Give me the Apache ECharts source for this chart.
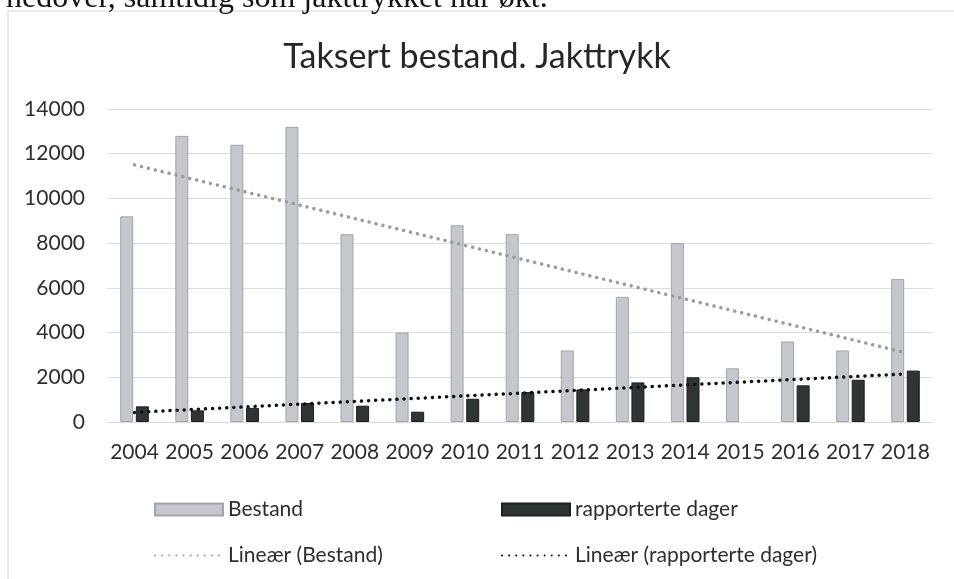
<!DOCTYPE html>
<html lang="no">
<head>
    <meta charset="UTF-8">
    <title>Taksert bestand. Jakttrykk</title>
    <style>
        html, body { margin: 0; padding: 0; background: #fff; }
    </style>
</head>
<body>
<div id="main" style="width: 954px;height: 579px;"></div>
<script src="https://cdn.jsdelivr.net/npm/echarts@6/dist/echarts.min.js"></script>
<script type="text/javascript">

    // years on the x axis
    var years = ['2004', '2005', '2006', '2007', '2008', '2009', '2010', '2011',
                 '2012', '2013', '2014', '2015', '2016', '2017', '2018'];

    // taksert bestand (light bars)
    var bestand = [9200, 12800, 12400, 13200, 8400, 4000, 8800, 8400,
                   3200, 5600, 8000, 2400, 3600, 3200, 6400];

    // rapporterte jaktdager (dark bars), 2015 has no value
    var dager = [700, 520, 630, 850, 730, 460, 1040, 1340,
                 1460, 1770, 2000, null, 1640, 1890, 2300];

    // trend lines, read at first and last year
    var trendBestand = [11500, null, null, null, null, null, null, null,
                        null, null, null, null, null, null, 3100];
    var trendDager = [430, null, null, null, null, null, null, null,
                      null, null, null, null, null, null, 2150];

    // y axis ticks
    var yMin = 0, yMax = 14000, yStep = 2000;

    var font = 'Lato';
    var textColor = '#2e2e2e';

    function oneLegend(name, left, top, isLine) {
        var item = { name: name, icon: isLine ? undefined : 'rect' };
        if (isLine) {
            item.itemStyle = { opacity: 0 };
        }
        return {
            data: [item],
            left: left,
            top: top,
            itemWidth: 68,
            itemHeight: 12,
            selectedMode: false,
            textStyle: {
                fontFamily: font,
                fontSize: 21,
                color: textColor
            }
        };
    }

    var option = {
        backgroundColor: '#ffffff',
        animation: false,
        textStyle: { fontFamily: font },
        title: {
            text: 'Taksert bestand. Jakttrykk',
            left: 'center',
            top: 35,
            textStyle: {
                fontFamily: font,
                fontSize: 34,
                fontWeight: 'normal',
                color: '#262626'
            }
        },
        graphic: [
            // frame of the chart area
            {
                type: 'rect',
                shape: { x: 8, y: 11, width: 980, height: 620 },
                style: { fill: 'none', stroke: '#d4d4d4', lineWidth: 1 },
                silent: true
            },
            // line of report text above the chart, cut at the top
            {
                type: 'text',
                x: 6,
                y: -1,
                style: {
                    text: 'nedover, samtidig som jakttrykket har økt.',
                    font: '32px "Liberation Serif"',
                    fill: '#151515',
                    verticalAlign: 'middle'
                },
                silent: true
            }
        ],
        legend: [
            oneLegend('Bestand', 149, 494, false),
            oneLegend('rapporterte dager', 496, 494, false),
            oneLegend('Lineær (Bestand)', 149, 540, true),
            oneLegend('Lineær (rapporterte dager)', 496, 540, true)
        ],
        grid: {
            left: 107,
            right: 21,
            top: 109,
            bottom: 157
        },
        xAxis: {
            type: 'category',
            data: years,
            axisTick: { show: false },
            axisLine: { lineStyle: { color: '#d9d9d9', width: 1 } },
            axisLabel: {
                interval: 0,
                fontFamily: font,
                fontSize: 21,
                color: textColor,
                margin: 20
            }
        },
        yAxis: {
            type: 'value',
            min: yMin,
            max: yMax,
            interval: yStep,
            axisLine: { show: false },
            axisTick: { show: false },
            splitLine: { lineStyle: { color: '#dcdcdc', width: 1 } },
            axisLabel: {
                fontFamily: font,
                fontSize: 21,
                color: textColor,
                margin: 22,
                formatter: function (v) { return String(v); }
            }
        },
        series: [
            {
                name: 'Bestand',
                type: 'bar',
                data: bestand,
                barWidth: 13,
                barGap: '20%',
                itemStyle: {
                    color: '#c4c7cd',
                    borderColor: '#a3a5a9',
                    borderWidth: 1
                }
            },
            {
                name: 'rapporterte dager',
                type: 'bar',
                data: dager,
                barWidth: 13,
                itemStyle: {
                    color: '#2f3532',
                    borderColor: '#1d201f',
                    borderWidth: 1
                }
            },
            {
                name: 'Lineær (Bestand)',
                type: 'line',
                data: trendBestand,
                connectNulls: true,
                symbol: 'none',
                z: 5,
                itemStyle: { color: '#9c9c9c' },
                lineStyle: {
                    color: '#9c9c9c',
                    width: 3.5,
                    type: [0.1, 7],
                    cap: 'round'
                }
            },
            {
                name: 'Lineær (rapporterte dager)',
                type: 'line',
                data: trendDager,
                connectNulls: true,
                symbol: 'none',
                z: 5,
                itemStyle: { color: '#111111' },
                lineStyle: {
                    color: '#111111',
                    width: 3.5,
                    type: [0.1, 7],
                    cap: 'round'
                }
            }
        ]
    };

    var myChart = echarts.init(document.getElementById('main'));
    myChart.setOption(option);
</script>
</body>
</html>
